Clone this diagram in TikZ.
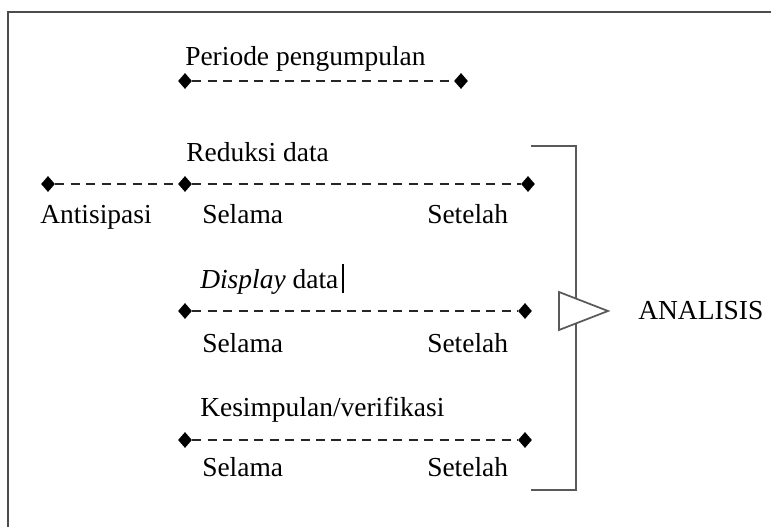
\documentclass[tikz,border=0pt]{standalone}
\usepackage{fontspec}
\setmainfont{Liberation Serif}
\usetikzlibrary{shapes.geometric}
\begin{document}
\begin{tikzpicture}[x=0.75pt,y=-0.75pt,
  lbl/.style={anchor=base west,inner sep=0pt,font=\fontsize{20.6}{24}\selectfont},
  dmd/.style={shape=diamond,fill=black,draw=none,inner sep=0pt,minimum width=10.5pt,minimum height=12pt},
  dl/.style={draw=black!85,line width=2pt,dash pattern=on 6.8pt off 4.8pt},
  frm/.style={draw=black!70,line width=2.2pt},
  brk/.style={draw=black!65,line width=1.6pt},
  tri/.style={draw=black!65,fill=white,line width=1.3pt,line join=miter}]
\useasboundingbox (0,0) rectangle (771,527);
% frame (top and left edges)
\coordinate (fTL) at (8,12);
\coordinate (fTR) at (771,12);
\coordinate (fBL) at (8,527);
\draw[frm] (fTR) -- (fTL) -- (fBL);

% Periode pengumpulan
\node[lbl] (tPer) at (185,66) {Periode pengumpulan};
\node[dmd] (d11) at (185,81) {};
\node[dmd] (d12) at (461,81) {};
\draw[dl] (d11) -- (d12);

% Reduksi data
\node[lbl] (tRed) at (186,162) {Reduksi data};
\node[dmd] (d21) at (48,184) {};
\node[dmd] (d22) at (185,184) {};
\node[dmd] (d23) at (528,184) {};
\draw[dl] (d21) -- (d22);
\draw[dl] (d22) -- (d23);
\node[lbl] (tAnt) at (40,224) {Antisipasi};
\node[lbl] (tSel1) at (202,224) {Selama};
\node[lbl] (tSet1) at (427,224) {Setelah};

% Display data
\node[lbl] (tDis) at (200,289) {\textit{Display} data};
\draw[black,line width=1.6pt] (343,264) -- (343,293);
\node[dmd] (d31) at (185,311) {};
\node[dmd] (d32) at (525,311) {};
\draw[dl] (d31) -- (d32);
\node[lbl] (tSel2) at (202,352) {Selama};
\node[lbl] (tSet2) at (427,352) {Setelah};

% Kesimpulan/verifikasi
\node[lbl] (tKes) at (200,416) {Kesimpulan/verifikasi};
\node[dmd] (d41) at (185,440) {};
\node[dmd] (d42) at (525,440) {};
\draw[dl] (d41) -- (d42);
\node[lbl] (tSel3) at (202,476) {Selama};
\node[lbl] (tSet3) at (427,476) {Setelah};

% bracket
\coordinate (bTL) at (531,146);
\coordinate (bTR) at (576,146);
\coordinate (bBR) at (576,490);
\coordinate (bBL) at (531,490);
\draw[brk] (bTL) -- (bTR) -- (bBR) -- (bBL);

% triangle
\coordinate (tA) at (559,292);
\coordinate (tB) at (608,311);
\coordinate (tC) at (559,330);
\draw[tri] (tA) -- (tB) -- (tC) -- cycle;

\node[lbl] (tAna) at (638,320) {ANALISIS};
\end{tikzpicture}
\end{document}
